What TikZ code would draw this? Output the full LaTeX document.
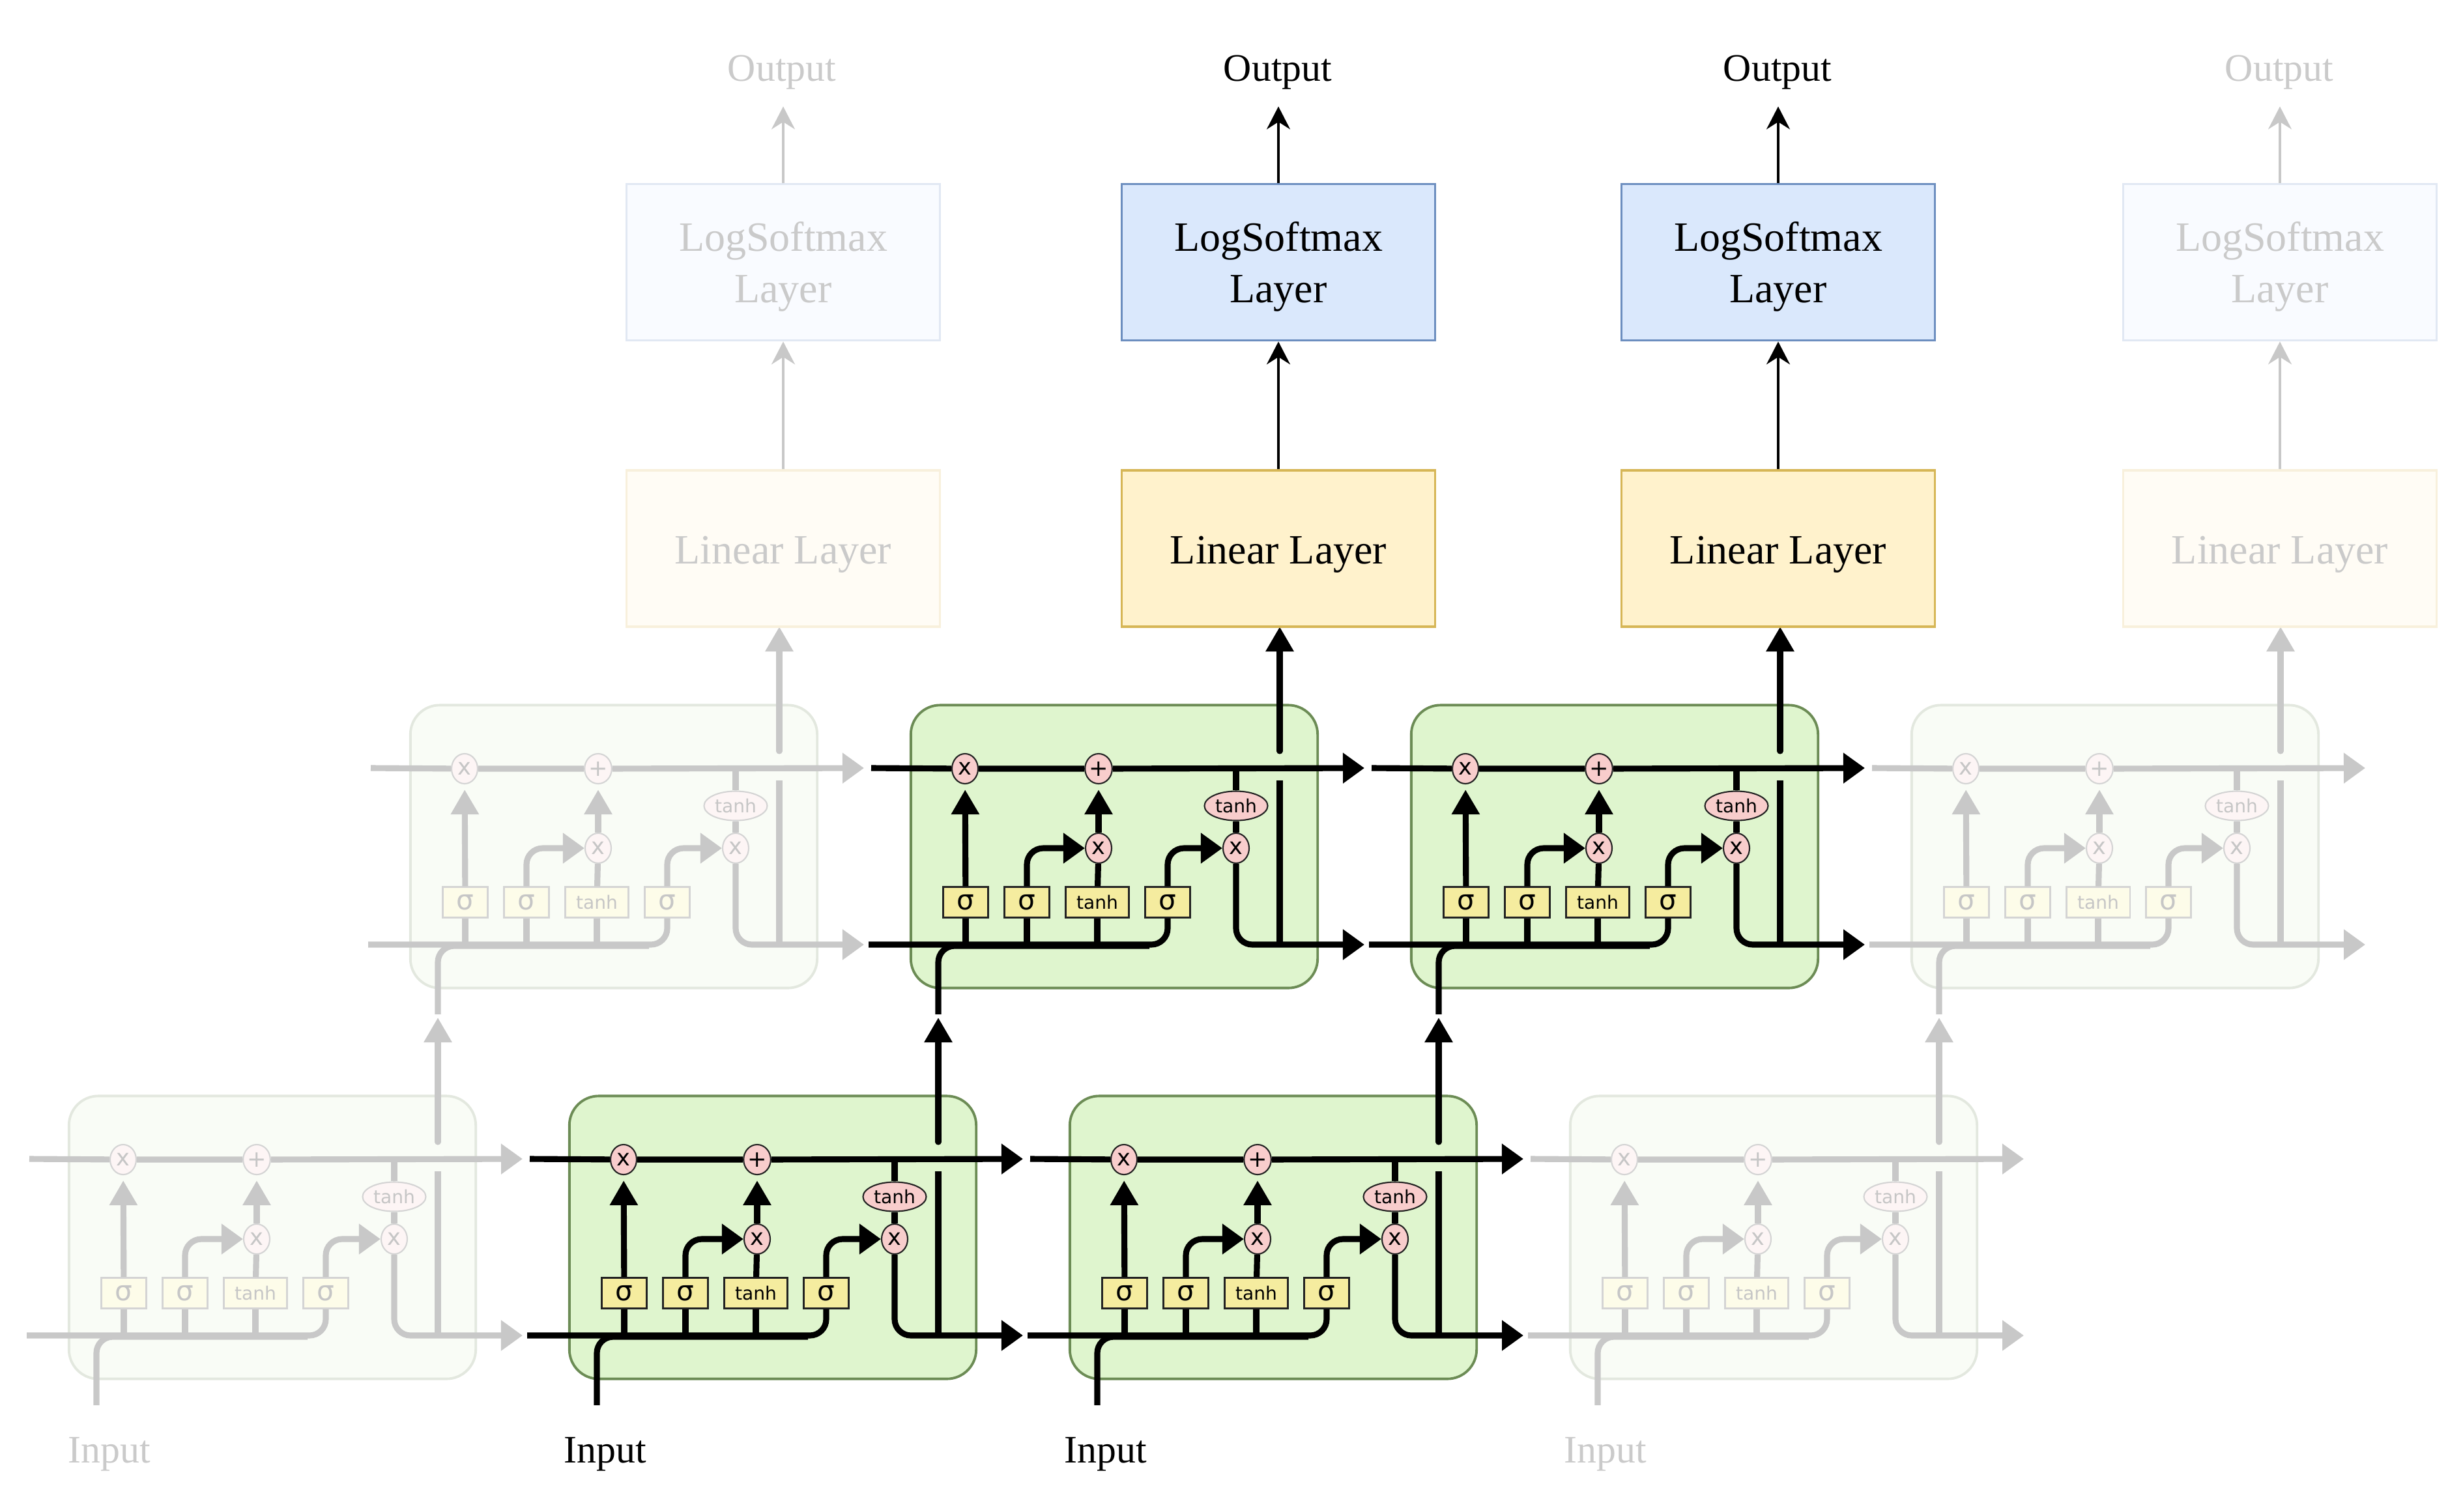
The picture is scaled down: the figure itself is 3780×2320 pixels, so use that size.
\documentclass[tikz,border=0pt]{standalone}
\usepackage{fontspec}
\setmainfont{Liberation Serif}
\newfontfamily\opfont{DejaVu Sans}
\usetikzlibrary{arrows.meta,shapes.geometric,calc}

% colours of the two looks
\newcommand{\livelook}{%
  \colorlet{flowcol}{black}\colorlet{wordcol}{black}\colorlet{opword}{black}%
  \definecolor{cellfill}{HTML}{DFF5CE}\definecolor{celldraw}{HTML}{6C8C55}%
  \definecolor{sigfill}{HTML}{F5EC9F}\definecolor{opfill}{HTML}{F8CDCC}%
  \definecolor{opdraw}{HTML}{222222}%
  \definecolor{linfill}{HTML}{FFF2CC}\definecolor{lindraw}{HTML}{D6B656}%
  \definecolor{softfill}{HTML}{DAE8FC}\definecolor{softdraw}{HTML}{6C8EBF}%
  \colorlet{thincol}{black}}
\newcommand{\ghostlook}{%
  \definecolor{flowcol}{HTML}{C8C8C8}\definecolor{wordcol}{HTML}{CACACA}%
  \definecolor{opword}{HTML}{C6C6C6}%
  \definecolor{cellfill}{HTML}{F9FCF6}\definecolor{celldraw}{HTML}{E3E8DF}%
  \definecolor{sigfill}{HTML}{FDFCE9}\definecolor{opfill}{HTML}{FDF5F5}%
  \definecolor{opdraw}{HTML}{D4D4D4}%
  \definecolor{linfill}{HTML}{FFFCF5}\definecolor{lindraw}{HTML}{F8F0DC}%
  \definecolor{softfill}{HTML}{F9FBFF}\definecolor{softdraw}{HTML}{E1E8F3}%
  \definecolor{thincol}{HTML}{C8C8C8}}

\tikzset{
  cellbox/.style={draw=celldraw,fill=cellfill,line width=1.1pt,rounded corners=0.45cm,
    minimum width=6.24cm,minimum height=4.34cm,inner sep=0},
  sigbox/.style={draw=opdraw,fill=sigfill,line width=0.6pt,minimum width=0.69cm,
    minimum height=0.47cm,inner sep=0,text=opword,font=\opfont\fontsize{12}{12}\selectfont},
  tanhbox/.style={sigbox,minimum width=0.97cm,font=\opfont\fontsize{8}{9}\selectfont},
  opnode/.style={ellipse,draw=opdraw,fill=opfill,line width=0.6pt,minimum width=0.40cm,
    minimum height=0.46cm,inner sep=0,text=opword,font=\opfont\fontsize{10}{10}\selectfont},
  tanhop/.style={opnode,minimum width=0.97cm,minimum height=0.45cm,font=\opfont\fontsize{8}{9}\selectfont},
  flow/.style={draw=flowcol,line width=2.6pt,rounded corners=0.25cm},
  uptip/.style={-{Triangle[length=0.38cm,width=0.41cm]}},
  righttip/.style={-{Triangle[length=0.33cm,width=0.45cm]}},
  layerbox/.style={line width=1pt,minimum width=4.81cm,minimum height=2.40cm,inner sep=0,
    align=center,text=wordcol,text depth=0pt,font=\fontsize{18.2}{22.5}\selectfont},
  linbox/.style={layerbox,draw=lindraw,fill=linfill,text height=0.47cm},
  softbox/.style={layerbox,draw=softdraw,fill=softfill},
  thin arrow/.style={draw=thincol,line width=1pt,-{Stealth[length=0.35cm,width=0.36cm]}},
  endword/.style={anchor=base,inner sep=0.26cm,text=wordcol,font=\fontsize{17}{20}\selectfont}
}

% one LSTM cell: name, shift x, shift y
\newcommand{\lstmcell}[3]{
\begin{scope}[shift={(#2,#3)}]
\node [cellbox] (#1-cell) at (1186,1899.5) {};
\coordinate (#1-cl) at (813,1779);
\coordinate (#1-cr) at (1570,1779);
\coordinate (#1-hl) at (809,2050);
\coordinate (#1-hr) at (1570,2050);
\coordinate (#1-in) at (916,2157);
\coordinate (#1-jn) at (1240,2052);
\coordinate (#1-bl) at (1440,1798);
\coordinate (#1-bu) at (1440,1753);
\coordinate (#1-bt) at (1440,1562);

\node [opnode] (#1-xa) at (957,1780) {x};
\node [opnode] (#1-plus) at (1162,1780) {+};
\node [opnode] (#1-xb) at (1162,1902) {x};
\node [opnode] (#1-xc) at (1373,1902) {x};
\node [tanhop] (#1-th) at (1373,1837) {tanh};
\node [sigbox] (#1-sa) at (958,1985) {σ};
\node [sigbox] (#1-sb) at (1052,1985) {σ};
\node [tanhbox] (#1-tb) at (1160,1985) {tanh};
\node [sigbox] (#1-sc) at (1268,1985) {σ};

\draw [flow,righttip] (#1-cl) -- (#1-xa) -- (#1-plus) -- (#1-cr);
\draw [flow] (#1-hl) -| (#1-sc);
\draw [flow] (#1-in) |- (#1-jn);
\draw [flow] (#1-sa) -- (#1-sa |- #1-hl);
\draw [flow] (#1-sb) -- (#1-sb |- #1-hl);
\draw [flow] (#1-tb) -- (#1-tb |- #1-hl);
\draw [flow,uptip,shorten >=0.08cm] (#1-sa) -- (#1-xa);
\draw [flow,righttip] (#1-sb) |- (#1-xb);
\draw [flow,righttip] (#1-sc) |- (#1-xc);
\draw [flow] (#1-tb) -- (#1-xb);
\draw [flow,uptip,shorten >=0.08cm] (#1-xb) -- (#1-plus);
\draw [flow] (#1-th) -- (#1-th |- #1-cl);
\draw [flow] (#1-th) -- (#1-xc);
\draw [flow,righttip] (#1-xc) |- (#1-hr);
\draw [flow] (#1-bl) -- (#1-bl |- #1-hr);
\draw [flow,uptip,line cap=round] (#1-bu) -- (#1-bt);
\end{scope}
}

% the two layers over one cell and the word above them
\newcommand{\outstack}[3]{
\node [linbox] (lin#1) at (#2,842) {Linear Layer};
\node [softbox] (soft#1) at (#2,402.5) {LogSoftmax\\Layer};
\node [endword] (out#1) at (#3,124) {Output};
\draw [thin arrow] (lin#1) -- (soft#1);
\draw [thin arrow] (soft#1.north) -- (soft#1.north |- out#1.south);
}

\begin{document}
\begin{tikzpicture}[x=0.01cm,y=-0.01cm]
\useasboundingbox (0,0) rectangle (3780,2320);

\ghostlook
\foreach \id/\dx/\dy in {la/-768/0,ld/1536/0,ua/-244/-600,ud/2060/-600}
  {\lstmcell{\id}{\dx}{\dy}}
\outstack{a}{1202}{1200}
\outstack{d}{3499}{3498}
\node [endword] (ina) at (168,2245) {Input};
\node [endword] (ind) at (2464,2245) {Input};

\livelook
\foreach \id/\dx/\dy in {lb/0/0,lc/768/0,ub/524/-600,uc/1292/-600}
  {\lstmcell{\id}{\dx}{\dy}}
\outstack{b}{1962}{1961}
\outstack{c}{2729}{2728}
\node [endword] (inb) at (929,2245) {Input};
\node [endword] (inc) at (1697,2245) {Input};

\end{tikzpicture}
\end{document}
